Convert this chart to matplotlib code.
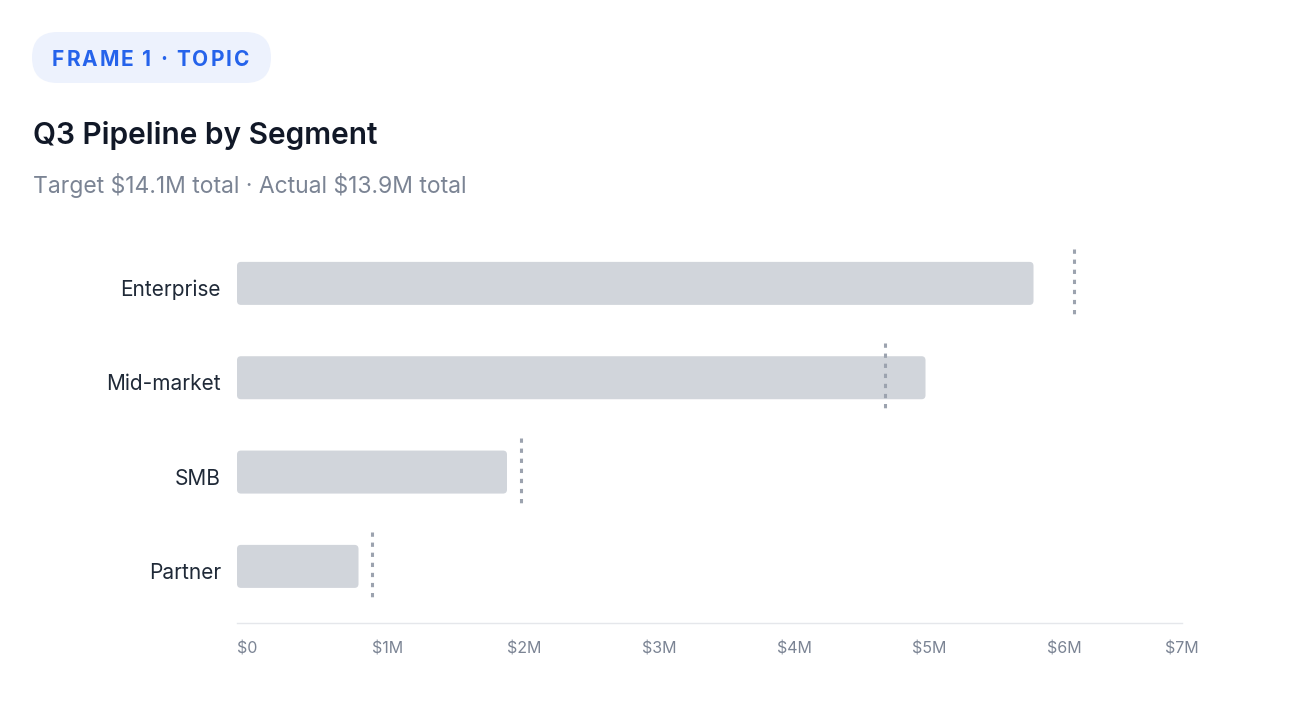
import matplotlib
matplotlib.use("Agg")
import matplotlib.pyplot as plt
from matplotlib.patches import FancyBboxPatch
from matplotlib.transforms import offset_copy

# ── data ──────────────────────────────────────────────────────────────
segments = ["Enterprise", "Mid-market", "SMB", "Partner"]
actual_m = [5.9, 5.1, 2.0, 0.9]      # $M
target_m = [6.2, 4.8, 2.1, 1.0]      # $M
x_ticks = [0, 1, 2, 3, 4, 5, 6, 7]
x_tick_labels = ["$0", "$1M", "$2M", "$3M", "$4M", "$5M", "$6M", "$7M"]

badge_text = "FRAME 1 · TOPIC"
title = "Q3 Pipeline by Segment"
subtitle = "Target $14.1M total · Actual $13.9M total"

FONT = ["Inter", "DejaVu Sans"]
BAR_C = "#D1D5DB"
TARGET_C = "#9CA3AF"
W, H = 1292, 702

plt.rcParams["font.family"] = FONT
plt.rcParams["text.parse_math"] = False
fig = plt.figure(figsize=(W / 100, H / 100), dpi=100)
fig.patch.set_facecolor("white")

# chart axes placed in pixel terms
x0, x1, y_top, y_bot = 237, 1182, 240, 623
ax = fig.add_axes([x0 / W, 1 - y_bot / H, (x1 - x0) / W, (y_bot - y_top) / H])
ax.set_xlim(0, 7)
ax.set_ylim(3.6, -0.46)

px_x = (x1 - x0) / 7.0
px_y = (y_bot - y_top) / 4.06
bar_h = 0.456
for i, v in enumerate(actual_m):
    p = FancyBboxPatch((0, i - bar_h / 2), v, bar_h,
                       boxstyle="round,pad=0,rounding_size=%f" % (4 / px_x),
                       mutation_aspect=px_x / px_y,
                       facecolor=BAR_C, edgecolor="none", zorder=2)
    ax.add_patch(p)

ax.vlines(target_m, [i - 0.366 for i in range(len(segments))],
          [i + 0.366 for i in range(len(segments))],
          colors=TARGET_C, linewidth=2.2, linestyles=(0, (1.4, 1.9)), zorder=3)

# category labels, sitting slightly below the bar centre as in the original
ax.set_yticks([])
lab_tr = offset_copy(ax.get_yaxis_transform(), fig=fig, x=-16, y=-6.5, units="dots")
for i, name in enumerate(segments):
    ax.text(0, i, name, transform=lab_tr, fontsize=15, color="#1F2937",
            ha="right", va="center")

ax.set_xticks(x_ticks)
ax.set_xticklabels(x_tick_labels, fontsize=11.5, color="#7B8494", ha="left")
ax.get_xticklabels()[-1].set_ha("center")
ax.tick_params(axis="x", length=0, pad=13)
for s in ["top", "right", "left"]:
    ax.spines[s].set_visible(False)
ax.spines["bottom"].set_color("#E5E7EB")
ax.spines["bottom"].set_linewidth(1.0)

# ── header overlay in pixel coordinates ──────────────────────────────
ov = fig.add_axes([0, 0, 1, 1], zorder=5)
ov.set_xlim(0, W)
ov.set_ylim(H, 0)
ov.axis("off")
ov.patch.set_alpha(0)

ov.add_patch(FancyBboxPatch((32, 32), 239, 51,
                            boxstyle="round,pad=0,rounding_size=25.5",
                            facecolor="#EDF2FD", edgecolor="none"))

# letter-spaced badge text
renderer = fig.canvas.get_renderer()
chars = []
for ch in badge_text:
    t = ov.text(0, 58, ch, fontsize=15, fontweight="bold", color="#2563EB",
                va="center_baseline", ha="left")
    chars.append(t)
widths = []
for t in chars:
    bb = t.get_window_extent(renderer)
    widths.append(bb.width if t.get_text() != " " else 5.0)
natural = sum(widths)
spacing = (197 - natural) / (len(chars) - 1)
xpos = 52
for t, w in zip(chars, widths):
    t.set_x(xpos)
    xpos += w + spacing

ov.text(33, 135, title, fontsize=21.5, fontweight="semibold", color="#111827",
        va="center", ha="left")
ov.text(33, 185, subtitle, fontsize=16.5, color="#7B8494", va="center", ha="left")

fig.savefig("out.png", dpi=100, facecolor="white")
